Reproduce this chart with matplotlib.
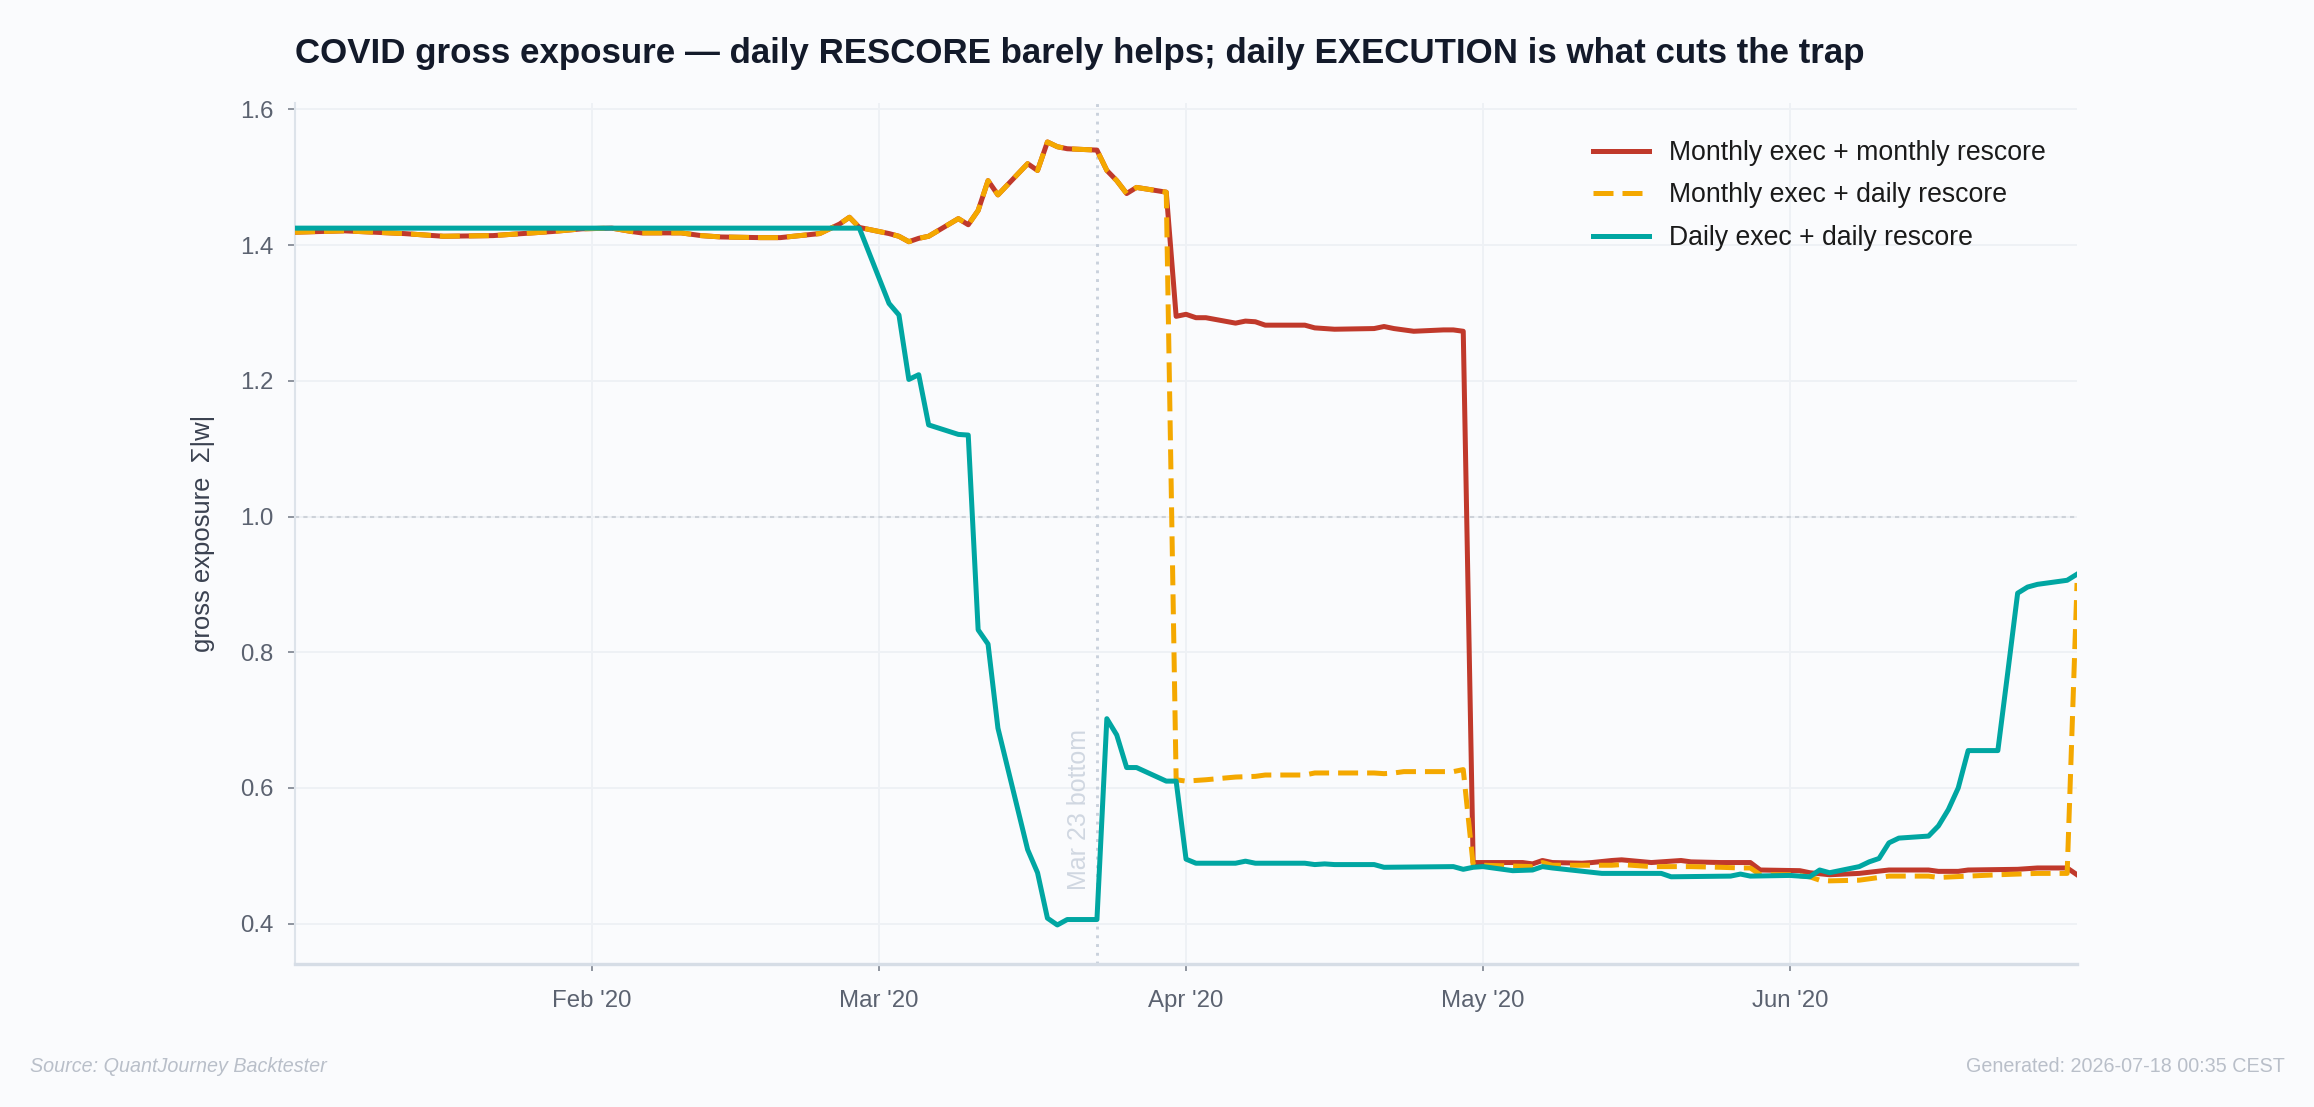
import numpy as np
import pandas as pd
import matplotlib
matplotlib.use("Agg")
import matplotlib.pyplot as plt
import matplotlib.dates as mdates

# ── Data (vertices) ───────────────────────────────────────────────────────────
PRE_DATES = ["2020-01-02", "2020-01-07", "2020-01-13", "2020-01-17", "2020-01-22",
             "2020-01-28", "2020-01-31", "2020-02-03", "2020-02-05", "2020-02-06",
             "2020-02-10", "2020-02-12", "2020-02-14", "2020-02-18", "2020-02-20",
             "2020-02-24", "2020-02-25", "2020-02-26", "2020-02-27", "2020-02-28",
             "2020-03-02", "2020-03-03", "2020-03-04", "2020-03-05", "2020-03-06",
             "2020-03-09", "2020-03-10", "2020-03-11", "2020-03-12", "2020-03-13",
             "2020-03-16", "2020-03-17", "2020-03-18", "2020-03-19", "2020-03-20",
             "2020-03-23", "2020-03-24", "2020-03-25", "2020-03-26", "2020-03-27",
             "2020-03-30"]
PRE_VALUES = [1.419, 1.421, 1.417, 1.413, 1.414,
              1.420, 1.424, 1.425, 1.420, 1.418,
              1.418, 1.414, 1.412, 1.411, 1.411,
              1.417, 1.424, 1.431, 1.441, 1.426,
              1.417, 1.413, 1.405, 1.410, 1.413,
              1.439, 1.430, 1.451, 1.495, 1.474,
              1.520, 1.510, 1.552, 1.545, 1.542,
              1.540, 1.510, 1.495, 1.476, 1.485,
              1.478]

MM_DATES = ["2020-03-31", "2020-04-01", "2020-04-02", "2020-04-03", "2020-04-06",
            "2020-04-07", "2020-04-08", "2020-04-09", "2020-04-13", "2020-04-14",
            "2020-04-16", "2020-04-20", "2020-04-21", "2020-04-22", "2020-04-24",
            "2020-04-27", "2020-04-28", "2020-04-29", "2020-04-30", "2020-05-05",
            "2020-05-06", "2020-05-07", "2020-05-08", "2020-05-11", "2020-05-12",
            "2020-05-14", "2020-05-15", "2020-05-18", "2020-05-19", "2020-05-21",
            "2020-05-22", "2020-05-25", "2020-05-28", "2020-05-29", "2020-06-02",
            "2020-06-03", "2020-06-05", "2020-06-08", "2020-06-11", "2020-06-15",
            "2020-06-16", "2020-06-18", "2020-06-19", "2020-06-24", "2020-06-26",
            "2020-06-29", "2020-06-30"]
MM_VALUES = [1.295, 1.298, 1.293, 1.293, 1.285,
             1.288, 1.287, 1.282, 1.282, 1.278,
             1.276, 1.277, 1.280, 1.277, 1.273,
             1.275, 1.275, 1.273, 0.490, 0.490,
             0.488, 0.493, 0.490, 0.489, 0.490,
             0.493, 0.494, 0.490, 0.491, 0.493,
             0.491, 0.490, 0.490, 0.479, 0.478,
             0.475, 0.472, 0.474, 0.479, 0.479,
             0.477, 0.477, 0.479, 0.480, 0.482,
             0.482, 0.472]

MD_DATES = ["2020-03-31", "2020-04-01", "2020-04-03", "2020-04-06", "2020-04-08",
            "2020-04-09", "2020-04-13", "2020-04-14", "2020-04-20", "2020-04-21",
            "2020-04-22", "2020-04-23", "2020-04-28", "2020-04-29", "2020-04-30",
            "2020-05-01", "2020-05-06", "2020-05-07", "2020-05-08", "2020-05-14",
            "2020-05-15", "2020-05-18", "2020-05-22", "2020-05-25", "2020-05-27",
            "2020-05-28", "2020-05-29", "2020-06-01", "2020-06-03", "2020-06-04",
            "2020-06-05", "2020-06-08", "2020-06-10", "2020-06-11", "2020-06-15",
            "2020-06-16", "2020-06-19", "2020-06-22", "2020-06-26", "2020-06-29",
            "2020-06-30"]
MD_VALUES = [0.612, 0.610, 0.612, 0.616, 0.617,
             0.619, 0.619, 0.622, 0.622, 0.621,
             0.622, 0.624, 0.624, 0.627, 0.487,
             0.486, 0.484, 0.490, 0.486, 0.486,
             0.487, 0.484, 0.484, 0.483, 0.482,
             0.482, 0.472, 0.472, 0.469, 0.464,
             0.463, 0.464, 0.468, 0.470, 0.470,
             0.468, 0.470, 0.472, 0.474, 0.474,
             0.902]

DD_DATES = ["2020-01-02", "2020-02-28", "2020-03-02", "2020-03-03", "2020-03-04",
            "2020-03-05", "2020-03-06", "2020-03-09", "2020-03-10", "2020-03-11",
            "2020-03-12", "2020-03-13", "2020-03-16", "2020-03-17", "2020-03-18",
            "2020-03-19", "2020-03-20", "2020-03-23", "2020-03-24", "2020-03-25",
            "2020-03-26", "2020-03-27", "2020-03-30", "2020-03-31", "2020-04-01",
            "2020-04-02", "2020-04-06", "2020-04-07", "2020-04-08", "2020-04-13",
            "2020-04-14", "2020-04-15", "2020-04-16", "2020-04-20", "2020-04-21",
            "2020-04-28", "2020-04-29", "2020-04-30", "2020-05-01", "2020-05-04",
            "2020-05-06", "2020-05-07", "2020-05-08", "2020-05-13", "2020-05-19",
            "2020-05-20", "2020-05-26", "2020-05-27", "2020-05-28", "2020-06-01",
            "2020-06-03", "2020-06-04", "2020-06-05", "2020-06-08", "2020-06-09",
            "2020-06-10", "2020-06-11", "2020-06-12", "2020-06-15", "2020-06-16",
            "2020-06-17", "2020-06-18", "2020-06-19", "2020-06-22", "2020-06-23",
            "2020-06-24", "2020-06-25", "2020-06-26", "2020-06-29", "2020-06-30"]
DD_VALUES = [1.425, 1.425, 1.314, 1.297, 1.202,
             1.209, 1.135, 1.121, 1.120, 0.833,
             0.812, 0.688, 0.509, 0.475, 0.408,
             0.398, 0.406, 0.406, 0.702, 0.678,
             0.630, 0.630, 0.610, 0.610, 0.495,
             0.489, 0.489, 0.492, 0.489, 0.489,
             0.487, 0.488, 0.487, 0.487, 0.483,
             0.484, 0.480, 0.483, 0.484, 0.478,
             0.479, 0.484, 0.482, 0.474, 0.474,
             0.469, 0.470, 0.473, 0.470, 0.471,
             0.469, 0.479, 0.475, 0.484, 0.491,
             0.496, 0.519, 0.526, 0.529, 0.544,
             0.568, 0.600, 0.655, 0.655, 0.770,
             0.887, 0.896, 0.900, 0.906, 0.915]

LABELS = ["Monthly exec + monthly rescore",
          "Monthly exec + daily rescore",
          "Daily exec + daily rescore"]
BOTTOM_DATE = "2020-03-23"

# ── Style ─────────────────────────────────────────────────────────────────────
BG = "#fafbfd"
RED, ORANGE, TEAL = "#c0392b", "#f4a800", "#00a6a2"
plt.rcParams["font.family"] = ["Liberation Sans", "DejaVu Sans"]

fig = plt.figure(figsize=(2314 / 150, 1107 / 150), dpi=150, facecolor=BG)
ax = fig.add_axes([0.1275, 0.1292, 0.7701, 0.7778])
ax.set_facecolor(BG)

mm_x = pd.to_datetime(PRE_DATES + MM_DATES)
md_x = pd.to_datetime(PRE_DATES + MD_DATES)
dd_x = pd.to_datetime(DD_DATES)

ax.plot(mm_x, PRE_VALUES + MM_VALUES, color=RED, lw=2.4, label=LABELS[0], zorder=3)
ax.plot(md_x, PRE_VALUES + MD_VALUES, color=ORANGE, lw=2.4, dashes=(4, 1.8),
        label=LABELS[1], zorder=4)
ax.plot(dd_x, DD_VALUES, color=TEAL, lw=2.4, label=LABELS[2], zorder=5)

# reference lines
ax.axhline(1.0, color="#cdd2d9", lw=1.0, ls=(0, (2, 2)), zorder=1.5)
bottom = pd.Timestamp(BOTTOM_DATE)
ax.axvline(bottom, color="#c9d1dc", lw=1.4, ls=(0, (1, 2)), zorder=1.5)
ax.annotate("Mar 23 bottom", xy=(bottom, 0.45), xytext=(-3, 0),
            textcoords="offset points", rotation=90, ha="right", va="bottom",
            fontsize=12, color="#d0d7e1")

# axes
ax.set_xlim(mm_x.min(), mm_x.max())
ax.set_ylim(0.3405, 1.6095)
ax.set_yticks([0.4, 0.6, 0.8, 1.0, 1.2, 1.4, 1.6])
ax.yaxis.set_major_formatter(plt.FormatStrFormatter("%.1f"))
ax.xaxis.set_major_locator(mdates.MonthLocator(bymonthday=1))
ax.xaxis.set_major_formatter(mdates.DateFormatter("%b '%y"))

ax.grid(True, color="#eef1f5", lw=0.9, zorder=0)
ax.set_axisbelow(True)
for s in ["top", "right"]:
    ax.spines[s].set_visible(False)
ax.spines["left"].set_color("#dde3ea")
ax.spines["left"].set_linewidth(1.0)
ax.spines["bottom"].set_color("#d6dde6")
ax.spines["bottom"].set_linewidth(1.6)
ax.tick_params(axis="both", colors="#8a909a", labelcolor="#5b6270",
               labelsize=11.5, length=3.5, width=0.9)
ax.tick_params(axis="x", pad=9)
ax.tick_params(axis="y", pad=7)

ax.set_ylabel("gross exposure  Σ|w|", fontsize=12.3, color="#3a4150", labelpad=12)

leg = ax.legend(loc="upper right", bbox_to_anchor=(0.996, 0.985), frameon=False,
                fontsize=12.8, handlelength=2.1, handletextpad=0.75,
                labelspacing=0.62)
for t in leg.get_texts():
    t.set_color("#1a1a1a")

# title and footer
fig.text(295 / 2314, 1 - 54 / 1107,
         "COVID gross exposure — daily RESCORE barely helps; daily EXECUTION is what cuts the trap",
         ha="left", va="center", fontsize=16.75, weight="bold", color="#131a2a")
fig.text(30 / 2314, 1 - 1066 / 1107, "Source: QuantJourney Backtester",
         ha="left", va="center", fontsize=9.5, style="italic", color="#b9bfc9")
fig.text(2285 / 2314, 1 - 1066 / 1107, "Generated: 2026-07-18 00:35 CEST",
         ha="right", va="center", fontsize=9.5, color="#b9bfc9")

fig.savefig("out.png", dpi=150, facecolor=BG)
